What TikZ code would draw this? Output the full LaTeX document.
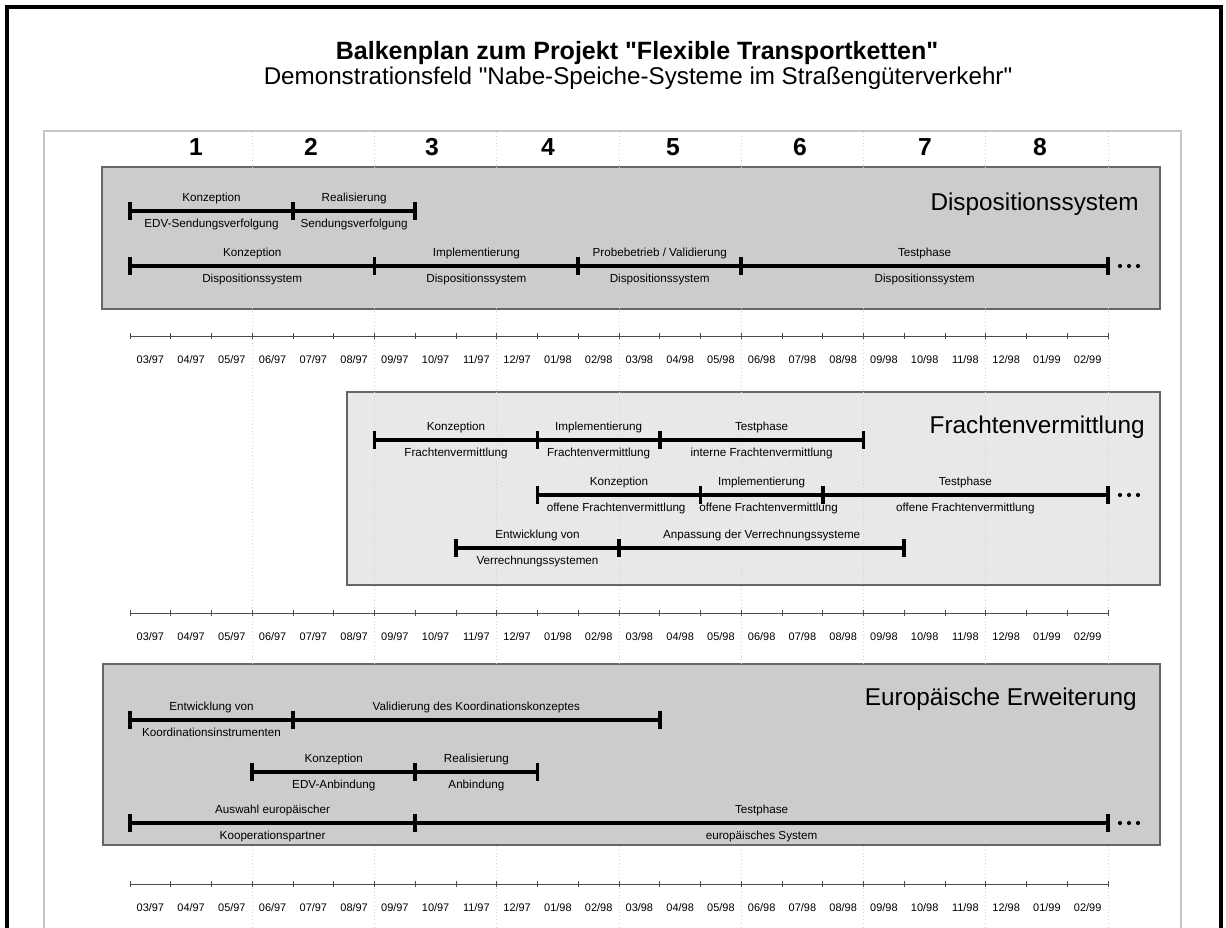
\documentclass[tikz,border=0pt]{standalone}
\usepackage{fontspec}
\setmainfont{Liberation Sans}
\newfontfamily\headsans{Liberation Sans}
\usetikzlibrary{arrows.meta,positioning,calc}
\definecolor{panelgray}{gray}{0.80}
\definecolor{panellight}{gray}{0.91}
\tikzset{
  panel/.style      = {draw=gray!80!black, line width=0.9pt},
  phase/.style      = {{Bar[width=12.5pt,line width=2.6pt]}-{Bar[width=12.5pt,line width=2.6pt]},
                       line width=2.6pt, shorten <=-1.3pt, shorten >=-1.3pt},
  tlabel/.style     = {font=\fontsize{8.3}{9}\selectfont, inner sep=0pt,
                       text height=6.2pt, text depth=1.7pt},
  uplabel/.style    = {tlabel, midway, yshift=8.8pt},
  dnlabel/.style    = {tlabel, midway, yshift=-9.3pt},
  grouptitle/.style = {font=\fontsize{17.3}{20}\selectfont, anchor=base east, inner sep=0pt},
  quarter/.style    = {font=\headsans\bfseries\fontsize{17.5}{20}\selectfont, inner sep=0pt},
  month/.style      = {font=\fontsize{7.8}{9}\selectfont, inner sep=0pt},
  axisline/.style   = {gray!60!black, line width=0.7pt},
  qline/.style      = {gray!35, dotted, line width=0.5pt},
}
\newcommand{\mon}[1]{130+40.75*(#1)}
\newcommand{\phasebar}[4]{\draw[phase] (#1) -- node[uplabel] (#1u) {#3} node[dnlabel] (#1d) {#4} (#2);}
\newcommand{\moredots}[1]{\foreach \i in {0,1,2} \fill ($(#1)+(12+9*\i,0)$) circle (1.5pt);}

\begin{document}
\begin{tikzpicture}[x=0.025cm, y=-0.025cm]
\useasboundingbox (0,0) rectangle (1226,928);
% ---- frames ----
\begin{scope}
  \clip (0,0) rectangle (1226,928);
  \draw[line width=2.2pt] (7,7) rectangle (1221,990);
  \draw[gray!45, line width=1.3pt] (44,131) rectangle (1181,990);
\end{scope}

% ---- title ----
\node[font=\headsans\bfseries\fontsize{17.8}{20}\selectfont] (title) at (637,53)
  {Balkenplan zum Projekt "Flexible Transportketten"};
\node[font=\headsans\fontsize{17.2}{20}\selectfont] (subtitle) at (638,78)
  {Demonstrationsfeld "Nabe-Speiche-Systeme im Straßengüterverkehr"};

% ---- quarters ----
\foreach \q/\qx in {1/196,2/311,3/432,4/548,5/673,6/800,7/925,8/1040}
  \node[quarter] (q\q) at (\qx,147) {\q};

% ---- panels ----
\draw[panel, fill=panelgray]  (102,167) rectangle (1160,309);
\draw[panel, fill=panellight] (347,392) rectangle (1160,585);
\draw[panel, fill=panelgray]  (103,664) rectangle (1160,845);
\foreach \m in {3,6,...,24}
  \draw[qline] ({\mon{\m}},132) -- ({\mon{\m}},928);

\node[grouptitle] (gdisp) at (1139,210) {Dispositionssystem};
\node[grouptitle] (gfracht) at (1145,433) {Frachtenvermittlung};
\node[grouptitle] (geuro) at (1137,705) {Europäische Erweiterung};

% ---- Dispositionssystem ----
\coordinate (d1a) at ({\mon{0}},211);
\coordinate (d1b) at ({\mon{4}},211);
\coordinate (d1c) at ({\mon{7}},211);
\coordinate (d2a) at ({\mon{0}},266);
\coordinate (d2b) at ({\mon{6}},266);
\coordinate (d2c) at ({\mon{11}},266);
\coordinate (d2d) at ({\mon{15}},266);
\coordinate (d2e) at ({\mon{24}},266);
\phasebar{d1a}{d1b}{Konzeption}{EDV-Sendungsverfolgung}
\phasebar{d1b}{d1c}{Realisierung}{Sendungsverfolgung}
\phasebar{d2a}{d2b}{Konzeption}{Dispositionssystem}
\phasebar{d2b}{d2c}{Implementierung}{Dispositionssystem}
\phasebar{d2c}{d2d}{Probebetrieb / Validierung}{Dispositionssystem}
\phasebar{d2d}{d2e}{Testphase}{Dispositionssystem}
\moredots{d2e}

% ---- Frachtenvermittlung ----
\coordinate (f1a) at ({\mon{6}},440);
\coordinate (f1b) at ({\mon{10}},440);
\coordinate (f1c) at ({\mon{13}},440);
\coordinate (f1d) at ({\mon{18}},440);
\coordinate (f2a) at ({\mon{10}},495);
\coordinate (f2b) at ({\mon{14}},495);
\coordinate (f2c) at ({\mon{17}},495);
\coordinate (f2d) at ({\mon{24}},495);
\coordinate (f3a) at ({\mon{8}},548);
\coordinate (f3b) at ({\mon{12}},548);
\coordinate (f3c) at ({\mon{19}},548);
\phasebar{f1a}{f1b}{Konzeption}{Frachtenvermittlung}
\phasebar{f1b}{f1c}{Implementierung}{Frachtenvermittlung}
\phasebar{f1c}{f1d}{Testphase}{interne Frachtenvermittlung}
\draw[phase] (f2a) -- node[uplabel] (f2au) {Konzeption}
  node[dnlabel, xshift=-2pt] (f2ad) {offene Frachtenvermittlung} (f2b);
\draw[phase] (f2b) -- node[uplabel] (f2bu) {Implementierung}
  node[dnlabel, xshift=5pt] (f2bd) {offene Frachtenvermittlung} (f2c);
\phasebar{f2c}{f2d}{Testphase}{offene Frachtenvermittlung}
\moredots{f2d}
\phasebar{f3a}{f3b}{Entwicklung von}{Verrechnungssystemen}
\phasebar{f3b}{f3c}{Anpassung der Verrechnungssysteme}{}

% ---- Europaeische Erweiterung ----
\coordinate (e1a) at ({\mon{0}},720);
\coordinate (e1b) at ({\mon{4}},720);
\coordinate (e1c) at ({\mon{13}},720);
\coordinate (e2a) at ({\mon{3}},772);
\coordinate (e2b) at ({\mon{7}},772);
\coordinate (e2c) at ({\mon{10}},772);
\coordinate (e3a) at ({\mon{0}},823);
\coordinate (e3b) at ({\mon{7}},823);
\coordinate (e3c) at ({\mon{24}},823);
\phasebar{e1a}{e1b}{Entwicklung von}{Koordinationsinstrumenten}
\phasebar{e1b}{e1c}{Validierung des Koordinationskonzeptes}{}
\phasebar{e2a}{e2b}{Konzeption}{EDV-Anbindung}
\phasebar{e2b}{e2c}{Realisierung}{Anbindung}
\phasebar{e3a}{e3b}{Auswahl europäischer}{Kooperationspartner}
\phasebar{e3b}{e3c}{Testphase}{europäisches System}
\moredots{e3c}

% ---- time axes ----
\foreach \ay in {336,613,884} {
  \draw[axisline] ({\mon{0}},\ay) -- ({\mon{24}},\ay);
  \foreach \k in {0,...,24}
    \draw[axisline] ({\mon{\k}},\ay-3) -- ({\mon{\k}},\ay+3);
  \foreach \mm/\yy [count=\k from 0] in {03/97,04/97,05/97,06/97,07/97,08/97,
      09/97,10/97,11/97,12/97,01/98,02/98,03/98,04/98,05/98,06/98,07/98,08/98,
      09/98,10/98,11/98,12/98,01/99,02/99}
    \node[month] (m\ay-\k) at ({\mon{\k+0.5}},\ay+24) {\mm/\yy};
}
\end{tikzpicture}
\end{document}
